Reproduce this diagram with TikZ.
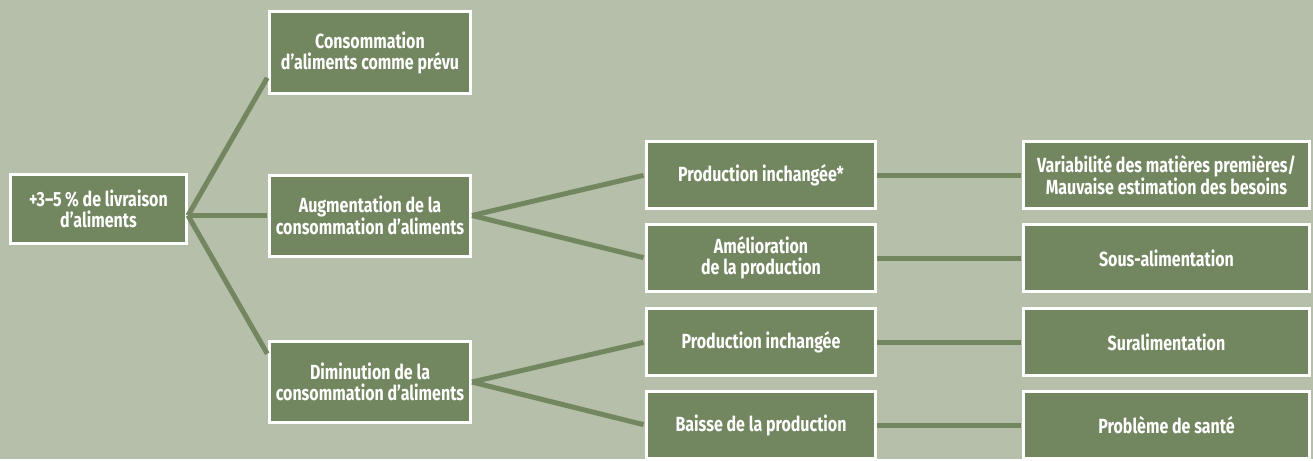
\documentclass[tikz,border=0pt]{standalone}
\usepackage{fontspec}
\setmainfont{Fira Sans}[FakeStretch=0.78]
\usetikzlibrary{positioning, calc}
\definecolor{bgsage}{HTML}{B6BFA9}
\definecolor{boxgreen}{HTML}{728660}

\begin{document}
\begin{tikzpicture}[
        x=1pt, y=1pt,
        box/.style={draw=white, line width=3pt, fill=boxgreen, text=white, align=center, inner sep=0pt,
            font=\bfseries\fontsize{20.5}{21}\selectfont},
        rootbox/.style={box, minimum width=176pt, minimum height=69pt},
        firstbox/.style={box, minimum width=201pt, minimum height=81pt},
        secondbox/.style={box, minimum width=229pt, minimum height=67pt},
        thirdbox/.style={box, minimum width=286pt, minimum height=67pt},
        link/.style={draw=boxgreen, line width=5pt, shorten >=1.5pt}
    ]
    \fill[bgsage] (0,0) rectangle (1313,-459);

    \node[rootbox] (Root) at (98.5,-209) {+3–5\,\% de livraison\\d’aliments};
    \node[firstbox] (Cons) at (370,-52.5) {Consommation\\d’aliments comme prévu};
    \node[firstbox] (Aug) at (370,-215.5) {Augmentation de la\\consommation d’aliments};
    \node[firstbox] (Dim) at (370,-382) {Diminution de la\\consommation d’aliments};

    \node[secondbox, right=173pt of Aug, yshift=40.5pt] (ProdSame) {Production inchangée*};
    \node[secondbox, below=13pt of ProdSame] (ProdUp) {Amélioration\\de la production};
    \node[secondbox, below=14pt of ProdUp] (ProdSameB) {Production inchangée};
    \node[secondbox, below=13pt of ProdSameB] (ProdDown) {Baisse de la production};

    \node[thirdbox, right=145pt of ProdSame] (Var) {Variabilité des matières premières/\\Mauvaise estimation des besoins};
    \node[thirdbox, right=145pt of ProdUp] (Under) {Sous-alimentation};
    \node[thirdbox, right=145pt of ProdSameB] (Over) {Suralimentation};
    \node[thirdbox, right=145pt of ProdDown] (Health) {Problème de santé};

    \coordinate (Fork) at (Root.east |- Aug.west);

    \draw[link] (Fork) -- ($(Cons.west)+(0,-24)$);
    \draw[link] (Fork) -- (Aug.west);
    \draw[link] (Fork) -- ($(Dim.west)+(0,27)$);

    \draw[link] (Aug.east) -- (ProdSame.west);
    \draw[link] (Aug.east) -- (ProdUp.west);
    \draw[link] (Dim.east) -- (ProdSameB.west);
    \draw[link] (Dim.east) -- (ProdDown.west);

    \draw[link] (ProdSame) -- (Var);
    \draw[link] (ProdUp) -- (Under);
    \draw[link] (ProdSameB) -- (Over);
    \draw[link] (ProdDown) -- (Health);
\end{tikzpicture}
\end{document}
